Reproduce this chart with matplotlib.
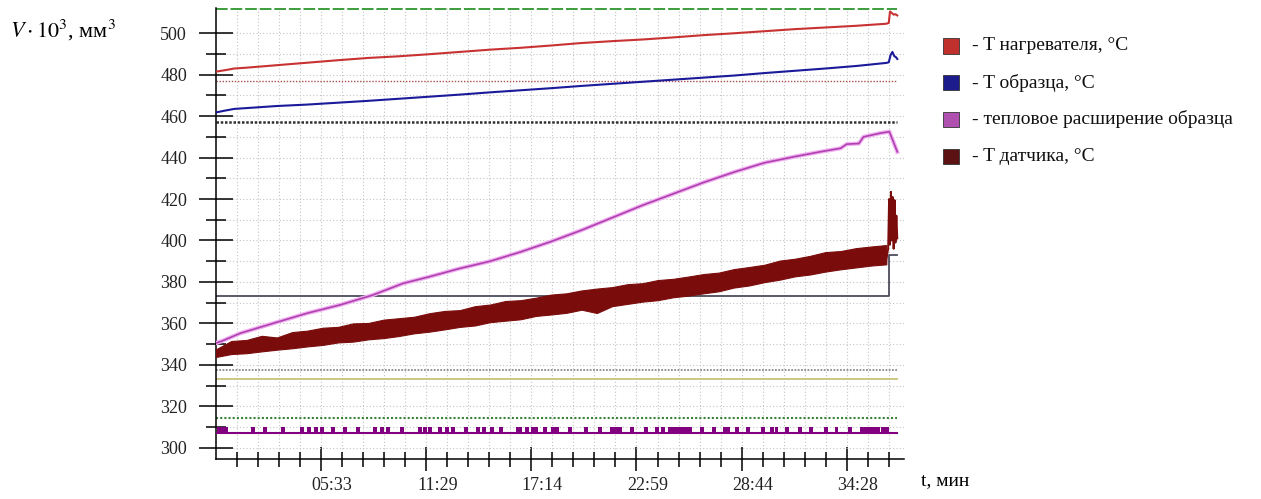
"""Dilatometer run: heater / sample / sensor temperatures and thermal expansion."""
import matplotlib
matplotlib.use("Agg")
import matplotlib.pyplot as plt
import matplotlib.transforms as mtransforms
from matplotlib.patches import Rectangle

plt.rcParams["font.family"] = ["Liberation Serif", "DejaVu Serif"]
plt.rcParams["mathtext.fontset"] = "stix"

# ---------------------------------------------------------------------------
# data (time in seconds from start of record, values in chart units)
# ---------------------------------------------------------------------------
T_MAIN = [0, 30, 60, 100, 200, 300, 400, 500, 600, 700, 800, 900, 1000, 1100,
          1200, 1300, 1400, 1500, 1600, 1700, 1800, 1900, 2000, 2100, 2200]

HEATER = [481.5, 482.2, 483.0, 483.4, 484.6, 485.8, 487.0, 488.1, 488.9, 489.9,
          491.0, 492.1, 493.0, 494.1, 495.3, 496.2, 497.0, 498.0, 499.1, 500.0,
          501.0, 502.0, 502.8, 503.6, 504.6]
HEATER_END_T = [2208, 2212, 2218, 2224, 2230, 2236]
HEATER_END = [505.0, 510.5, 509.8, 509.0, 509.2, 508.6]

SAMPLE = [461.8, 462.7, 463.5, 463.9, 464.9, 465.6, 466.5, 467.4, 468.4, 469.4,
          470.4, 471.5, 472.5, 473.5, 474.6, 475.6, 476.6, 477.6, 478.6, 479.6,
          480.8, 481.9, 483.0, 484.2, 485.7]
SAMPLE_END_T = [2208, 2214, 2220, 2226, 2232, 2236]
SAMPLE_END = [486.0, 489.5, 491.0, 489.0, 488.4, 487.6]

EXP_T = [0, 20, 79, 187, 299, 407, 515, 614, 700, 800, 900, 1000, 1100, 1200,
         1300, 1400, 1500, 1600, 1700, 1800, 1900, 1983, 2050, 2070, 2110,
         2125, 2180, 2210, 2236]
EXPANSION = [350.5, 351.5, 355.2, 360.0, 364.9, 368.9, 373.7, 379.3, 382.5,
             386.5, 390.0, 394.5, 399.5, 405.0, 411.0, 417.0, 422.5, 428.0,
             433.0, 437.5, 440.5, 442.8, 444.5, 446.5, 446.8, 450.0, 451.8,
             452.5, 442.8]

SENSOR_T = [0, 50, 100, 150, 200, 250, 300, 350, 400, 450, 500, 550, 600, 650,
            700, 750, 800, 850, 900, 950, 1000, 1050, 1100, 1150, 1200, 1250,
            1300, 1350, 1400, 1450, 1500, 1550, 1600, 1650, 1700, 1750, 1800,
            1850, 1900, 1950, 2000, 2050, 2100, 2150, 2200]
SENSOR_LOW = [343.8, 345.2, 345.6, 346.5, 347.3, 348.0, 348.9, 349.6, 350.8,
              351.2, 352.3, 352.9, 353.9, 355.2, 356.0, 357.1, 358.3, 359.0,
              360.6, 361.3, 362.0, 363.6, 364.3, 365.1, 366.6, 365.0, 368.3,
              369.4, 370.5, 371.2, 372.6, 373.4, 374.5, 375.5, 377.3, 378.3,
              379.9, 381.1, 382.7, 383.6, 385.0, 386.1, 387.0, 387.9, 388.5]
SENSOR_HIGH = [347.5, 351.5, 352.0, 354.0, 353.2, 355.8, 356.5, 357.9, 358.3,
               360.0, 360.2, 361.8, 362.5, 363.2, 364.9, 366.0, 366.4, 368.3,
               369.1, 370.8, 371.2, 372.4, 373.9, 374.5, 375.9, 376.8, 377.5,
               378.9, 379.4, 380.9, 381.5, 382.6, 383.8, 384.5, 386.2, 387.2,
               388.3, 390.3, 391.2, 392.6, 394.4, 394.9, 396.3, 397.1, 397.8]
SENSOR_END_T = [2200, 2206, 2209, 2212, 2215, 2218, 2221, 2224, 2227, 2230,
                2233, 2236]
SENSOR_END = [391.0, 396.0, 420.0, 398.0, 423.5, 400.0, 421.0, 396.0, 419.5,
              399.0, 412.0, 401.0]

# dark grey step trace
STEP_T = [0, 2210, 2236]
STEP_V = [373.3, 393.0, 393.0]

# flat reference traces (level, colour, style, width)
REF_END_T = 2236
REF_LEVELS = [511.8, 477.0, 457.3, 337.6, 333.3, 314.2]
REF_COLORS = ["#3c9c3c", "#a85050", "#303030", "#8c8c8c", "#c8c27a", "#3a803a"]
REF_STYLES = [(0, (6, 1.5)), (0, (1, 1.2)), (0, (1, 0.7)), (0, (1, 0.8)),
              "-", (0, (1, 1))]
REF_WIDTHS = [1.4, 1.0, 1.8, 1.3, 1.3, 1.5]

# bottom purple pulse trace
PULSE_BASE = 306.9
PULSE_TOP = 310.1
PULSE_T = [10, 20, 33, 121, 161, 220, 282, 305, 328, 348, 384, 424, 466, 522,
           545, 565, 611, 670, 686, 703, 735, 758, 778, 821, 860, 880, 906,
           936, 991, 998, 1021, 1041, 1051, 1080, 1106, 1120, 1162, 1215,
           1261, 1300, 1313, 1326, 1366, 1412, 1448, 1468, 1490, 1504, 1517,
           1530, 1543, 1556, 1596, 1635, 1671, 1681, 1710, 1747, 1796, 1825,
           1839, 1875, 1917, 1953, 2003, 2036, 2081, 2121, 2134, 2147, 2160,
           2173, 2190, 2203]

MAJOR_T = [345, 690, 1035, 1380, 1725, 2070]
TICK_LABELS = ["05:33", "11:29", "17:14", "22:59", "28:44", "34:28"]

LEGEND_LABELS = ["- T нагревателя, °C", "- T образца, °C",
                 "- тепловое расширение образца", "- T датчика, °C"]
LEGEND_COLORS = ["#c0302c", "#1c1c8c", "#b050b0", "#5c1212"]

# ---------------------------------------------------------------------------
W, H = 1261, 499
fig = plt.figure(figsize=(W / 100, H / 100), dpi=100)
ax = fig.add_axes([216 / W, 1 - 459 / H, (904 - 216) / W, (459 - 8) / H])

ax.set_xlim(0, 2258)
ax.set_ylim(294.55, 512.2)

# grid
ax.set_xticks(MAJOR_T)
ax.set_xticks(range(69, 2255, 69), minor=True)
ax.set_yticks(range(300, 501, 20))
ax.set_yticks(range(310, 500, 20), minor=True)
ax.grid(which="both", color="#c4c4c4", linestyle=(0, (1, 2)), linewidth=0.8)
ax.set_axisbelow(True)

# reference traces
for lvl, c, ls, lw in zip(REF_LEVELS, REF_COLORS, REF_STYLES, REF_WIDTHS):
    ax.plot([0, REF_END_T], [lvl, lvl], color=c, linestyle=ls, linewidth=lw,
            zorder=2)

ax.step(STEP_T, STEP_V, where="post", color="#4c4c5c", linewidth=1.3, zorder=2)

# purple pulses
ax.plot([0, REF_END_T], [PULSE_BASE, PULSE_BASE], color="#800080",
        linewidth=1.5, zorder=3)
ax.bar(PULSE_T, PULSE_TOP - PULSE_BASE, width=12, bottom=PULSE_BASE,
       color="#800080", linewidth=0, zorder=3)

# main series
ax.plot(T_MAIN + HEATER_END_T, HEATER + HEATER_END, color="#c83232",
        linewidth=1.5, zorder=4)
ax.plot(T_MAIN + SAMPLE_END_T, SAMPLE + SAMPLE_END, color="#1a1a9a",
        linewidth=1.5, zorder=4)
ax.plot(EXP_T, EXPANSION, color="#f0b0f0", linewidth=3.0, zorder=4)
ax.plot(EXP_T, EXPANSION, color="#b040b0", linewidth=1.2, zorder=4)
ax.fill_between(SENSOR_T, SENSOR_LOW, SENSOR_HIGH, color="#7b0c0c",
                linewidth=0.8, edgecolor="#7b0c0c", zorder=4)
ax.plot(SENSOR_END_T, SENSOR_END, color="#7b0c0c", linewidth=1.4, zorder=4)

# axes styling
for s in ("top", "right"):
    ax.spines[s].set_visible(False)
for s in ("left", "bottom"):
    ax.spines[s].set_linewidth(1.1)
ax.tick_params(axis="x", which="major", direction="inout", length=17.3,
               width=1.1, pad=4.3, labelsize=13, labelcolor="#222222")
ax.tick_params(axis="x", which="minor", direction="inout", length=10.8,
               width=1.1)
ax.tick_params(axis="y", which="major", direction="inout", length=25,
               width=1.1, pad=8.3, labelsize=13, labelcolor="#222222")
ax.tick_params(axis="y", which="minor", direction="inout", length=15,
               width=1.1)
ax.set_xticklabels(TICK_LABELS)
shift = mtransforms.ScaledTranslation(11 / 100, 0, fig.dpi_scale_trans)
for lab in ax.get_xticklabels():
    lab.set_transform(lab.get_transform() + shift)

# axis captions
fig.text(10 / W, 1 - 30 / H, r"$V \cdot 10^{3}$, мм$^{3}$", fontsize=16,
         va="center", ha="left")
fig.text(921 / W, 1 - 481 / H, "t, мин", fontsize=14, va="center", ha="left")

# legend drawn by hand to the right of the plot
row_y = [46, 82.5, 119.5, 156.5]
for y, lab, c in zip(row_y, LEGEND_LABELS, LEGEND_COLORS):
    fig.add_artist(Rectangle((943 / W, 1 - (y + 7.5) / H), 16 / W, 15 / H,
                             transform=fig.transFigure, facecolor=c,
                             edgecolor="#333333", linewidth=0.6))
    fig.text(972 / W, 1 - y / H, lab, fontsize=14, va="center", ha="left",
             color="#111111")

fig.savefig("out.png", dpi=100)
